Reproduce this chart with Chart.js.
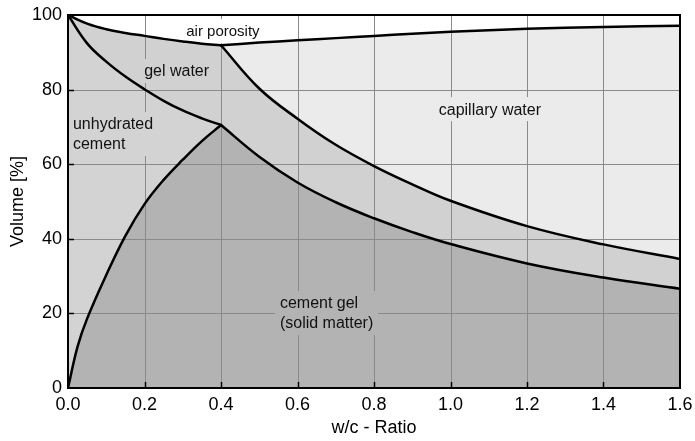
<!DOCTYPE html>
<html>
<head>
<meta charset="utf-8">
<script src="https://cdn.jsdelivr.net/npm/chart.js@4"></script>
<style>
    html, body { margin: 0; padding: 0; background: #ffffff; }
    #wrap { width: 695px; height: 441px; position: relative; }
</style>
</head>
<body>
<div id="wrap"><canvas id="volumeChart"></canvas></div>
<script>
// w/c ratio positions, left of the 0.4 break
const wcLeft = [0, 0.05, 0.1, 0.15, 0.2, 0.25, 0.3, 0.35, 0.4];
const wcSolidLeft = [0, 0.025, 0.05, 0.1, 0.15, 0.2, 0.25, 0.3, 0.35, 0.4];
// w/c ratio positions, right of the 0.4 break
const wcRight = [0.4, 0.5, 0.6, 0.7, 0.8, 0.9, 1.0, 1.2, 1.4, 1.6];

// boundary curves, volume in %
const airBoundaryLeft = [100, 97.7, 96.2, 95.2, 94.4, 93.6, 92.9, 92.3, 91.9];
const unhydratedTop = [100, 92.4, 87.5, 83.5, 80.1, 77.0, 74.4, 72.3, 70.5];
const solidTopLeft = [0, 11.1, 18.6, 30.3, 40.8, 49.3, 55.8, 61.2, 66.2, 70.5];
const solidTopRight = [70.5, 62.0, 55.1, 49.8, 45.5, 41.8, 38.6, 33.4, 29.6, 26.6];
const gelWaterTopRight = [91.9, 80.3, 72.2, 65.2, 59.5, 54.6, 50.2, 43.4, 38.5, 34.6];
const airBoundaryRight = [91.9, 92.6, 93.2, 93.8, 94.4, 95.0, 95.5, 96.3, 96.8, 97.1];

const solidColor = '#b3b3b3';
const gelColor = '#d1d1d1';
const unhydratedColor = '#d3d3d3';
const capillaryColor = '#ebebeb';
const gridColor = '#8a8a8a';
const fontFamily = '"Liberation Sans", Arial, Helvetica, sans-serif';

const areaLabels = [
    { lines: ['air porosity'], x: 0.405, y: 95.4, align: 'center', size: 15, bg: '#ffffff' },
    { lines: ['gel water'], x: 0.284, y: 84.7, align: 'center', size: 16, bg: gelColor },
    { lines: ['unhydrated', 'cement'], x: 0.013, y: 70.5, align: 'left', size: 16, bg: unhydratedColor },
    { lines: ['capillary water'], x: 1.103, y: 74.5, align: 'center', size: 16, bg: capillaryColor },
    { lines: ['cement gel', '(solid matter)'], x: 0.554, y: 22.5, align: 'left', size: 16, bg: solidColor }
];

function toPoints(xs, ys) {
    return xs.map((x, i) => ({ x: x, y: ys[i] }));
}

function curve(xs, ys, color) {
    return {
        data: toPoints(xs, ys),
        fill: 'origin',
        backgroundColor: color,
        borderColor: '#000000',
        borderWidth: 2.5,
        borderCapStyle: 'round',
        borderJoinStyle: 'round',
        pointRadius: 0,
        tension: 0.4
    };
}

const overlay = {
    id: 'overlay',
    beforeDatasetsDraw(chart) {
        const { ctx, chartArea: a, scales: { x, y } } = chart;
        ctx.save();
        // grid on top of the filled areas
        ctx.strokeStyle = gridColor;
        ctx.lineWidth = 1;
        ctx.beginPath();
        x.ticks.forEach(t => {
            if (t.value <= x.min || t.value >= x.max) return;
            const px = Math.round(x.getPixelForValue(t.value)) + 0.5;
            ctx.moveTo(px, a.top);
            ctx.lineTo(px, a.bottom);
        });
        y.ticks.forEach(t => {
            if (t.value <= y.min || t.value >= y.max) return;
            const py = Math.round(y.getPixelForValue(t.value)) + 0.5;
            ctx.moveTo(a.left, py);
            ctx.lineTo(a.right, py);
        });
        ctx.stroke();

        // region labels with a background box hiding the grid
        areaLabels.forEach(lbl => {
            ctx.font = lbl.size + 'px ' + fontFamily;
            const w = Math.max(...lbl.lines.map(s => ctx.measureText(s).width));
            const px = x.getPixelForValue(lbl.x);
            const py = y.getPixelForValue(lbl.y);
            const left = lbl.align === 'center' ? px - w / 2 : px;
            const lineH = 20;
            const top = py - 13;
            const bottom = py + (lbl.lines.length - 1) * lineH + 11;
            ctx.fillStyle = lbl.bg;
            ctx.fillRect(left - 5, top, w + 10, bottom - top);
            ctx.fillStyle = '#111111';
            ctx.textAlign = 'left';
            ctx.textBaseline = 'middle';
            lbl.lines.forEach((s, i) => ctx.fillText(s, left, py + i * lineH));
        });
        ctx.restore();
    },
    afterDatasetsDraw(chart) {
        const { ctx, chartArea: a, scales: { x, y } } = chart;
        ctx.save();
        ctx.strokeStyle = '#000000';
        ctx.lineWidth = 1.5;
        ctx.beginPath();
        x.ticks.forEach(t => {
            if (t.value <= x.min || t.value >= x.max) return;
            const px = Math.round(x.getPixelForValue(t.value)) + 0.5;
            ctx.moveTo(px, a.bottom);
            ctx.lineTo(px, a.bottom - 6);
        });
        y.ticks.forEach(t => {
            if (t.value <= y.min || t.value >= y.max) return;
            const py = Math.round(y.getPixelForValue(t.value)) + 0.5;
            ctx.moveTo(a.left, py);
            ctx.lineTo(a.left + 6, py);
        });
        ctx.stroke();
        ctx.lineWidth = 2;
        ctx.strokeRect(a.left, a.top, a.right - a.left, a.bottom - a.top);
        ctx.restore();
    }
};

Chart.defaults.font.family = fontFamily;
Chart.defaults.color = '#000000';

new Chart(document.getElementById('volumeChart'), {
    type: 'line',
    data: {
        datasets: [
            curve(wcSolidLeft, solidTopLeft, solidColor),
            curve(wcRight, solidTopRight, solidColor),
            curve(wcLeft, unhydratedTop, unhydratedColor),
            curve(wcLeft, airBoundaryLeft, gelColor),
            curve(wcRight, gelWaterTopRight, gelColor),
            curve(wcRight, airBoundaryRight, capillaryColor)
        ]
    },
    options: {
        responsive: true,
        maintainAspectRatio: false,
        animation: false,
        layout: { padding: { top: 15, right: 15, left: 0, bottom: 0 } },
        plugins: {
            legend: { display: false },
            tooltip: { enabled: false },
            filler: { drawTime: 'beforeDatasetsDraw' }
        },
        scales: {
            x: {
                type: 'linear',
                min: 0,
                max: 1.6,
                afterFit: s => {
                    s.height = 53;
                    s.paddingLeft = 0;
                    s.paddingRight = 0;
                },
                grid: { display: false, drawTicks: false },
                border: { display: false },
                ticks: {
                    stepSize: 0.2,
                    padding: 6,
                    maxRotation: 0,
                    autoSkip: false,
                    font: { size: 18 },
                    callback: v => v.toFixed(1)
                },
                title: {
                    display: true,
                    text: 'w/c - Ratio',
                    font: { size: 18 },
                    padding: { top: 0, bottom: 2 }
                }
            },
            y: {
                type: 'linear',
                min: 0,
                max: 100,
                afterFit: s => {
                    s.width = 68;
                    s.paddingTop = 0;
                    s.paddingBottom = 0;
                },
                grid: { display: false, drawTicks: false },
                border: { display: false },
                ticks: {
                    stepSize: 20,
                    padding: 6,
                    font: { size: 18 }
                },
                title: {
                    display: true,
                    text: 'Volume [%]',
                    font: { size: 18 },
                    padding: { top: 7, bottom: 0 }
                }
            }
        }
    },
    plugins: [overlay]
});
</script>
</body>
</html>
